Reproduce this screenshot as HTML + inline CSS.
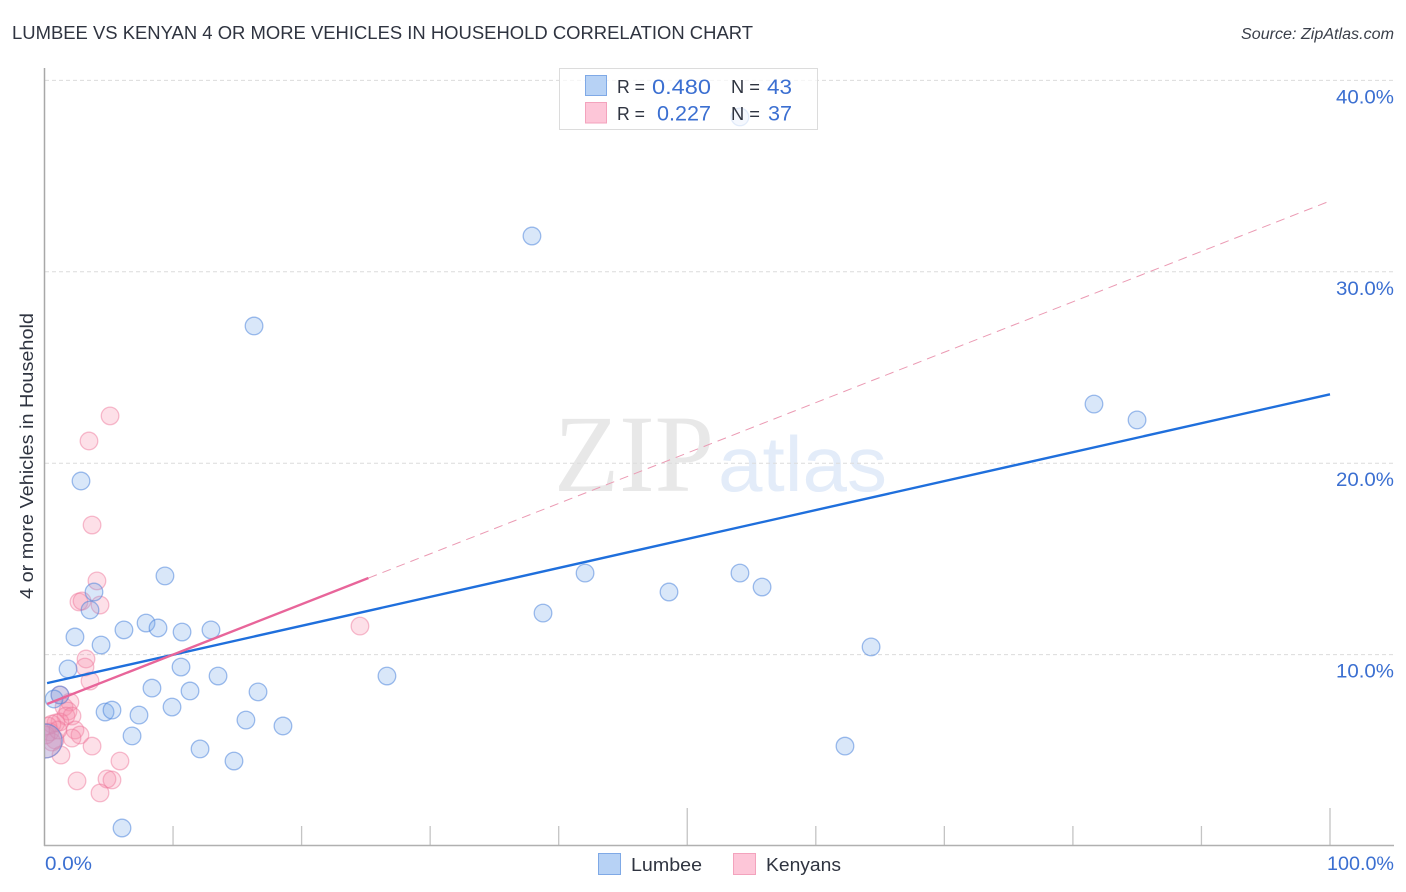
<!DOCTYPE html>
<html lang="en">
<head>
<meta charset="utf-8">
<title>Lumbee vs Kenyan 4 or more vehicles in household correlation chart</title>
<style>
html,body{margin:0;padding:0;background:#fff;width:1406px;height:892px;overflow:hidden}
svg{display:block;font-family:"Liberation Sans",sans-serif}
</style>
</head>
<body>
<svg id="chart" width="1406" height="892" viewBox="0 0 1406 892" xmlns="http://www.w3.org/2000/svg">
  <defs><clipPath id="plot-clip"><rect x="45" y="60" width="1350" height="786"/></clipPath></defs>
  <text x="12" y="39" font-size="18.5" fill="#2f3440" textLength="741" lengthAdjust="spacingAndGlyphs">LUMBEE VS KENYAN 4 OR MORE VEHICLES IN HOUSEHOLD CORRELATION CHART</text>
  <text x="1241" y="39" font-size="15.5" font-style="italic" fill="#3a3f4a" textLength="153" lengthAdjust="spacingAndGlyphs">Source: ZipAtlas.com</text>
  <g>
    <text x="554" y="491" font-family="'Liberation Serif',serif" font-size="110" fill="#e8e8e8" textLength="160" lengthAdjust="spacingAndGlyphs">ZIP</text>
    <text x="718" y="491" font-size="78" fill="#e3ecf9" textLength="169" lengthAdjust="spacingAndGlyphs">atlas</text>
  </g>
  <g id="grid"></g>
  <g id="axes"></g>
  <g id="series" clip-path="url(#plot-clip)"></g>
  <g id="trends"></g>
  <g id="ylabels"></g>
  <text transform="translate(33,456) rotate(-90)" font-size="18.5" fill="#2f3440" text-anchor="middle" textLength="286" lengthAdjust="spacingAndGlyphs">4 or more Vehicles in Household</text>
  <text x="45" y="870" font-size="19" fill="#3b6fd1" textLength="47" lengthAdjust="spacingAndGlyphs">0.0%</text>
  <text x="1327" y="870" font-size="19" fill="#3b6fd1" textLength="67" lengthAdjust="spacingAndGlyphs">100.0%</text>

  <g>
    <rect x="559.5" y="68.5" width="258" height="61" fill="#fff" fill-opacity="0.72" stroke="#dcdcdc" stroke-width="1"/>
    <rect x="585.5" y="75.5" width="21" height="20" fill="#b7d2f5" stroke="#7fa9e6" stroke-width="1"/>
    <rect x="585.5" y="102.5" width="21" height="20.5" fill="#fdc6d8" stroke="#f3a3bd" stroke-width="1"/>
    <text x="617" y="93" font-size="18" fill="#2f3440" textLength="28" lengthAdjust="spacingAndGlyphs">R =</text>
    <text x="652" y="94" font-size="21" fill="#3b6fd1" textLength="59" lengthAdjust="spacingAndGlyphs">0.480</text>
    <text x="731" y="93" font-size="18" fill="#2f3440" textLength="29" lengthAdjust="spacingAndGlyphs">N =</text>
    <text x="767" y="94" font-size="21" fill="#3b6fd1" textLength="25" lengthAdjust="spacingAndGlyphs">43</text>
    <text x="617" y="120" font-size="18" fill="#2f3440" textLength="28" lengthAdjust="spacingAndGlyphs">R =</text>
    <text x="657" y="120.5" font-size="21" fill="#3b6fd1" textLength="54" lengthAdjust="spacingAndGlyphs">0.227</text>
    <text x="731" y="120" font-size="18" fill="#2f3440" textLength="29" lengthAdjust="spacingAndGlyphs">N =</text>
    <text x="768" y="120.5" font-size="21" fill="#3b6fd1" textLength="24" lengthAdjust="spacingAndGlyphs">37</text>
  </g>

  <g>
    <g>
      <rect x="598.5" y="853.5" width="22" height="21" fill="#b7d2f5" stroke="#7fa9e6" stroke-width="1"/>
      <text x="631" y="871" font-size="18.5" fill="#2f3440" textLength="71" lengthAdjust="spacingAndGlyphs">Lumbee</text>
    </g>
    <g>
      <rect x="733.5" y="853.5" width="22" height="21" fill="#fdc6d8" stroke="#f3a3bd" stroke-width="1"/>
      <text x="766" y="871" font-size="18.5" fill="#2f3440" textLength="75" lengthAdjust="spacingAndGlyphs">Kenyans</text>
    </g>
  </g>
</svg>
<script>
const yTickValues = [10, 20, 30, 40];
const yTickLabels = ['10.0%', '20.0%', '30.0%', '40.0%'];
const xTickValues = [0, 10, 20, 30, 40, 50, 60, 70, 80, 90, 100];
const xMajorTicks = [50, 100];

const lumbeeX = [54.1, 37.92, 16.3, 81.64, 84.99, 2.84, 9.37, 42.05, 54.1, 55.82, 48.58, 3.85, 3.54, 38.78, 7.9, 8.83, 6.18, 10.7, 12.95, 2.37, 4.4, 64.3, 1.83, 10.62, 13.5, 26.64, 8.36, 11.32, 16.61, 1.2, 0.74, 9.92, 4.71, 5.25, 7.35, 15.67, 18.55, 6.81, 62.27, 12.1, 14.74, 6.03, 0.05];
const lumbeeY = [38.09, 31.87, 27.17, 23.09, 22.26, 19.07, 14.11, 14.26, 14.26, 13.53, 13.27, 13.27, 12.33, 12.17, 11.65, 11.39, 11.29, 11.18, 11.29, 10.92, 10.5, 10.4, 9.25, 9.35, 8.88, 8.88, 8.25, 8.1, 8.05, 7.89, 7.68, 7.26, 7.0, 7.1, 6.84, 6.58, 6.27, 5.75, 5.22, 5.07, 4.44, 0.94, 5.49];

const kenyansX = [5.1, 3.46, 3.7, 4.08, 2.68, 2.92, 4.32, 24.54, 3.23, 3.15, 3.54, 1.2, 1.98, 1.52, 1.83, 1.67, 2.14, 1.2, 0.89, 0.58, 0.27, 0.43, 2.37, 2.76, 2.14, 0.82, 3.7, 0.58, 1.28, 5.87, 4.86, 5.25, 2.53, 4.32, 0.12, 1.05, 0.05];
const kenyansY = [22.47, 21.16, 16.77, 13.85, 12.75, 12.8, 12.59, 11.49, 9.77, 9.35, 8.62, 7.89, 7.52, 7.26, 7.05, 6.79, 6.79, 6.48, 6.43, 6.37, 6.27, 5.96, 6.06, 5.8, 5.64, 5.54, 5.22, 5.43, 4.75, 4.44, 3.5, 3.45, 3.4, 2.77, 5.8, 6.06, 5.49];

const lumbeeTrendX = [0.2, 100];
const lumbeeTrendY = [8.51, 23.6];
const kenyansTrendX = [0.2, 25.2];
const kenyansTrendY = [7.42, 14.0];
const kenyansProjectionX = [25.2, 100];
const kenyansProjectionY = [14.0, 33.7];

const bigLumbeeIndex = 42;
const bigKenyansIndex = 36;

const NS = 'http://www.w3.org/2000/svg';
function xScale(v) { return 44.5 + v * 12.855; }
function yScale(v) { return 846 - v * 19.14; }
function make(tag, attrs, parent) {
  const el = document.createElementNS(NS, tag);
  for (const k in attrs) el.setAttribute(k, attrs[k]);
  parent.appendChild(el);
  return el;
}

const grid = document.getElementById('grid');
yTickValues.forEach(function (v) {
  const l = make('line', { x1: 45, x2: 1393, y1: yScale(v), y2: yScale(v), stroke: '#dcdcdc', 'stroke-width': 1, 'stroke-dasharray': '4 3' }, grid);
  
  
});

const axes = document.getElementById('axes');
xTickValues.forEach(function (v) {
  if (v === 0) return;
  const top = xMajorTicks.indexOf(v) >= 0 ? 808 : 826;
  const t = make('line', { x1: xScale(v), x2: xScale(v), y1: top, y2: 846, stroke: '#c4c4c4', 'stroke-width': 1.3 }, axes);
  
  
});
const yAxis = make('line', { x1: 44.5, x2: 44.5, y1: 68, y2: 846, stroke: '#a8a8a8', 'stroke-width': 1.5 }, axes);


const xAxis = make('line', { x1: 44, x2: 1394, y1: 845.5, y2: 845.5, stroke: '#b0b0b0', 'stroke-width': 1.5 }, axes);



const ylabels = document.getElementById('ylabels');
yTickValues.forEach(function (v, i) {
  const t = make('text', { x: 1336, y: yScale(v) + 23, 'font-size': 19, fill: '#3b6fd1', textLength: 58, lengthAdjust: 'spacingAndGlyphs' }, ylabels);
  t.textContent = yTickLabels[i];
  
  
});

const series = document.getElementById('series');
kenyansX.forEach(function (x, i) {
  const c = make('circle', { cx: xScale(x), cy: yScale(kenyansY[i]), r: i === bigKenyansIndex ? 17 : 8.8, fill: 'rgba(248,140,170,0.27)', stroke: 'rgba(238,120,155,0.48)', 'stroke-width': 1.3 }, series);
  
  
});
lumbeeX.forEach(function (x, i) {
  const c = make('circle', { cx: xScale(x), cy: yScale(lumbeeY[i]), r: i === bigLumbeeIndex ? 17 : 8.8, fill: 'rgba(120,170,235,0.28)', stroke: 'rgba(80,135,220,0.55)', 'stroke-width': 1.3 }, series);
  
  
});

const trends = document.getElementById('trends');
const proj = make('line', { x1: xScale(kenyansProjectionX[0]), y1: yScale(kenyansProjectionY[0]), x2: xScale(kenyansProjectionX[1]), y2: yScale(kenyansProjectionY[1]), stroke: '#eb9ab3', 'stroke-width': 1, 'stroke-dasharray': '9 6' }, trends);


const blueLine = make('line', { x1: xScale(lumbeeTrendX[0]), y1: yScale(lumbeeTrendY[0]), x2: xScale(lumbeeTrendX[1]), y2: yScale(lumbeeTrendY[1]), stroke: '#1f6fdc', 'stroke-width': 2.4 }, trends);


const pinkLine = make('line', { x1: xScale(kenyansTrendX[0]), y1: yScale(kenyansTrendY[0]), x2: xScale(kenyansTrendX[1]), y2: yScale(kenyansTrendY[1]), stroke: '#e8659a', 'stroke-width': 2.4 }, trends);


</script>
</body>
</html>
